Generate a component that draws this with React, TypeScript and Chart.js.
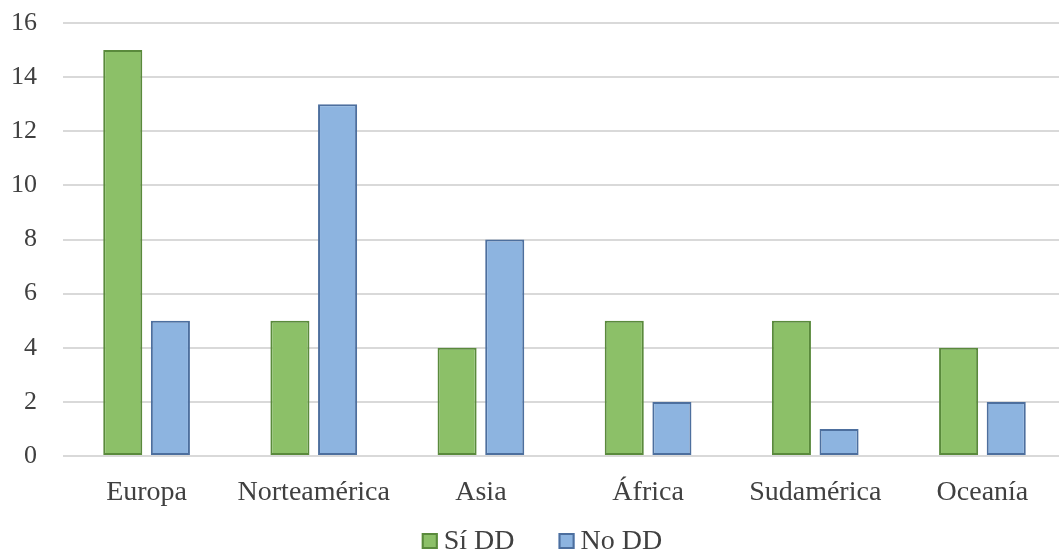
import React, { useEffect, useRef } from "react";
import { Chart, registerables } from "chart.js";

Chart.register(...registerables);

const categories = ["Europa", "Norteamérica", "Asia", "África", "Sudamérica", "Oceanía"];
const siDD = [15, 5, 4, 5, 5, 4];
const noDD = [5, 13, 8, 2, 1, 2];
const seriesNames = ["Sí DD", "No DD"];

const FONT = "'Liberation Serif', 'Times New Roman', serif";
const TEXT = "#404040";
const FILLS = ["#8cc068", "#8db4e0"];
const BORDERS = ["#5a8a3c", "#4d6f9e"];

// Compact legend under the x labels: small bordered squares, tight text gap, wide item gap.
const bottomLegend = {
  id: "bottomLegend",
  afterDraw(chart: any) {
    const ctx = chart.ctx as CanvasRenderingContext2D;
    const box = 16;
    const textGap = 6;
    const itemGap = 44;
    const cy = 541;
    ctx.save();
    ctx.font = `28px ${FONT}`;
    ctx.textBaseline = "middle";
    ctx.textAlign = "left";
    const items = chart.data.datasets.map((d: any, i: number) => ({
      text: d.label as string,
      fill: FILLS[i],
      border: BORDERS[i],
      w: box + textGap + ctx.measureText(d.label).width,
    }));
    const total = items.reduce((s: number, it: any) => s + it.w, 0) + itemGap * (items.length - 1);
    let x = 542 - total / 2;
    items.forEach((it: any) => {
      ctx.fillStyle = it.fill;
      ctx.fillRect(x, cy - box / 2, box, box);
      ctx.strokeStyle = it.border;
      ctx.lineWidth = 2;
      ctx.strokeRect(x + 1, cy - box / 2 + 1, box - 2, box - 2);
      ctx.fillStyle = TEXT;
      ctx.fillText(it.text, x + box + textGap, cy + 1);
      x += it.w + itemGap;
    });
    ctx.restore();
  },
};

export default function App() {
  const ref = useRef<HTMLCanvasElement | null>(null);

  useEffect(() => {
    document.body.style.margin = "0";
    const canvas = ref.current;
    if (!canvas) return;
    const chart = new Chart(canvas, {
      type: "bar",
      data: {
        labels: categories,
        datasets: [
          {
            label: seriesNames[0],
            data: siDD,
            backgroundColor: FILLS[0],
            borderColor: BORDERS[0],
            borderWidth: 2,
            borderSkipped: false,
            categoryPercentage: 0.57,
            barPercentage: 0.82,
          },
          {
            label: seriesNames[1],
            data: noDD,
            backgroundColor: FILLS[1],
            borderColor: BORDERS[1],
            borderWidth: 2,
            borderSkipped: false,
            categoryPercentage: 0.57,
            barPercentage: 0.82,
          },
        ],
      },
      options: {
        responsive: false,
        animation: false,
        layout: { padding: { top: 23, left: 0, right: 0, bottom: 46 } },
        plugins: {
          tooltip: { enabled: false },
          legend: { display: false },
        },
        scales: {
          x: {
            grid: { display: false, drawTicks: false },
            border: { display: false },
            ticks: { color: TEXT, padding: 20, font: { family: FONT, size: 28 } },
            afterFit: (s: any) => {
              s.height = 54;
              s.paddingLeft = 0;
              s.paddingRight = 0;
            },
          },
          y: {
            min: 0,
            max: 16,
            ticks: { stepSize: 2, padding: 26, color: TEXT, font: { family: FONT, size: 26 } },
            grid: { color: "#d9d9d9", lineWidth: 2, drawTicks: false },
            border: { display: false },
            afterFit: (s: any) => {
              s.width = 63;
              s.paddingTop = 0;
              s.paddingBottom = 0;
            },
          },
        },
      },
      plugins: [bottomLegend],
    });
    return () => chart.destroy();
  }, []);

  return (
    <div style={{ position: "absolute", left: 0, top: 0, width: 1059, height: 556, overflow: "hidden", background: "#fff" }}>
      <canvas ref={ref} width={1066} height={556} />
    </div>
  );
}
